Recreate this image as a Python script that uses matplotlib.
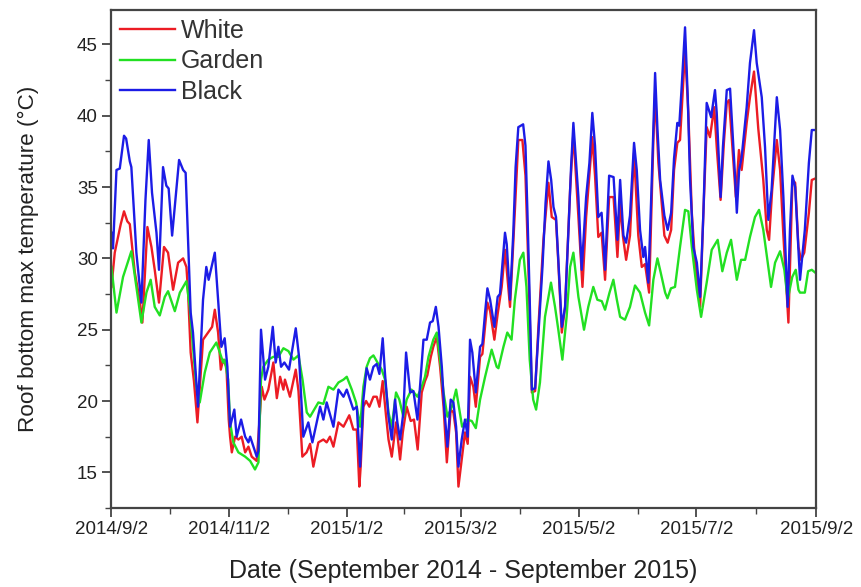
import matplotlib
matplotlib.use("Agg")
import matplotlib.pyplot as plt
from matplotlib.ticker import MultipleLocator

plt.rcParams["font.family"] = ["Liberation Sans", "DejaVu Sans"]

# day offset from 2014/9/2, daily max roof-bottom temperature (deg C)
white_days = [0.2, 1.9, 3.6, 5.0, 6.7, 8.4, 9.7, 12.3, 14.8, 16.2, 18.8, 20.9, 22.6, 24.8, 27.4, 29.5,
              32.1, 34.7, 37.3, 39.0, 39.8, 41.2, 42.9, 44.7, 47.6, 50.2, 52.3, 53.7, 55.4, 56.8, 58.0,
              59.7, 60.9, 61.6, 62.5, 64.2, 65.9, 67.6, 69.4, 71.1, 72.8, 75.4, 78.0, 79.4, 81.4, 84.0,
              85.8, 87.5, 89.2, 90.0, 92.6, 95.6, 97.0, 99.0, 101.2, 103.0, 104.7, 107.3, 109.9, 111.6,
              113.3, 115.1, 117.7, 120.3, 123.3, 125.4, 127.2, 128.5, 129.2, 130.6, 132.0, 133.7, 135.8,
              137.5, 138.9, 140.6, 142.3, 143.6, 145.3, 147.5, 149.6, 151.0, 153.0, 155.1, 156.8, 158.7,
              160.8, 162.5, 163.7, 165.5, 166.8, 168.6, 170.3, 172.1, 173.8, 175.8, 177.2, 178.6, 179.8,
              181.5, 183.2, 184.6, 185.8, 187.5, 188.8, 191.0, 192.2, 194.8, 196.2, 198.4, 200.1, 202.2,
              203.9, 205.6, 206.5, 208.2, 210.8, 212.9, 214.5, 216.0, 217.8, 219.5, 221.2, 223.8, 226.4,
              228.1, 230.3, 231.5, 233.3, 235.0, 237.6, 239.3, 241.9, 244.0, 245.9, 249.1, 250.5, 252.2,
              253.9, 255.7, 257.8, 260.1, 262.1, 263.5, 265.0, 266.6, 268.6, 270.7, 272.9, 274.7, 276.4,
              278.5, 280.7, 281.6, 283.3, 286.4, 288.1, 289.9, 291.4, 293.1, 294.5, 297.1, 298.8, 300.6,
              302.3, 304.9, 306.6, 308.3, 310.0, 312.2, 313.5, 315.5, 317.2, 318.7, 319.9, 321.6, 323.4,
              325.0, 326.4, 329.0, 330.7, 332.8, 335.0, 337.6, 339.4, 340.6, 342.2, 344.6, 346.3, 348.0,
              350.6, 352.0, 352.7, 354.1, 355.8, 357.1, 358.8, 361.2, 362.7, 364.5]
white_vals = [28.0, 30.4, 31.5, 32.4, 33.3, 32.6, 32.4, 29.0, 27.1, 25.5, 32.2, 30.8, 29.2, 26.9, 30.8, 30.4,
              27.8, 29.7, 30.0, 29.4, 27.8, 23.4, 21.4, 18.5, 24.3, 24.8, 25.2, 26.4, 24.8, 22.2, 22.9,
              22.4, 18.7, 17.5, 16.4, 17.5, 17.3, 17.5, 16.4, 16.8, 16.1, 15.8, 21.0, 20.1, 20.8, 22.7,
              20.2, 21.7, 20.8, 21.5, 20.3, 22.2, 20.7, 16.1, 16.4, 17.0, 15.4, 17.1, 17.3, 17.1,
              17.5, 16.8, 18.5, 18.2, 19.0, 18.0, 18.0, 14.0, 15.4, 19.6, 20.0, 19.6, 20.3,
              20.3, 19.6, 21.4, 19.0, 17.3, 16.1, 18.5, 15.9, 17.8, 19.6, 18.6, 18.7, 16.6,
              20.6, 21.4, 21.8, 23.1, 23.8, 24.5, 22.4, 19.6, 15.7, 19.4, 19.2, 17.8, 14.0,
              15.9, 17.8, 17.0, 21.7, 21.0, 19.6, 23.1, 23.3, 26.9, 26.3, 24.3, 26.1, 28.0,
              30.6, 28.0, 26.6, 31.1, 38.3, 38.3, 35.8, 29.4, 20.6, 20.7, 25.2, 31.3, 35.3,
              32.9, 32.7, 29.7, 24.8, 26.6, 34.8, 38.8, 32.9, 28.0, 32.9, 38.5, 35.8, 31.5,
              31.8, 28.5, 34.3, 34.3, 30.1, 33.8, 31.5, 29.9, 31.6, 37.4, 31.6, 29.4, 29.6,
              27.6, 38.3, 41.6, 36.7, 31.6, 31.1, 32.0, 36.2, 38.1, 38.3, 44.6, 40.2, 33.2,
              29.7, 26.6, 33.2, 39.2, 38.5, 40.6, 37.8, 34.1, 38.1, 40.9, 41.1, 37.8, 34.3,
              37.6, 36.2, 39.5, 41.3, 43.1, 39.1, 35.5, 32.0, 31.3, 34.8, 38.3, 36.2, 31.6,
              25.5, 32.0, 35.5, 35.3, 30.8, 29.9, 30.4, 33.2, 35.5, 35.6]

garden_days = [0.2, 2.8, 6.2, 10.5, 13.1, 15.7, 18.3, 20.5, 22.6, 25.2, 27.8, 29.5, 33.0, 35.6, 39.0, 40.7,
               42.4, 44.1, 45.9, 48.5, 51.1, 54.5, 56.3, 58.0, 58.8, 60.6, 61.6, 63.3, 65.9, 69.4, 72.0,
               74.5, 76.3, 77.6, 78.8, 81.4, 84.0, 86.6, 89.2, 91.8, 94.4, 97.0, 99.1, 101.3, 103.0, 104.7,
               107.3, 109.9, 112.5, 115.1, 117.7, 120.3, 122.0, 124.6, 126.8, 128.9, 130.6, 132.3, 134.0,
               135.8, 137.9, 140.1, 141.8, 143.6, 145.3, 147.5, 149.2, 151.3, 153.0, 155.5, 158.6, 160.8,
               162.5, 164.3, 166.8, 168.6, 170.3, 172.1, 174.1, 176.4, 178.6, 180.3, 181.7, 184.1, 186.7,
               188.8, 191.0, 193.6, 197.0, 199.6, 200.5, 203.1, 205.1, 207.3, 209.0, 211.6, 213.4, 215.0,
               216.7, 218.5, 220.0, 222.0, 224.6, 227.7, 229.8, 231.5, 233.6, 235.8, 237.6, 239.3, 241.9,
               244.8, 247.0, 249.6, 251.7, 254.0, 255.7, 258.0, 260.0, 261.8, 263.5, 266.0, 268.6, 271.2,
               273.8, 276.4, 278.5, 280.7, 282.8, 284.5, 286.8, 288.0, 289.8, 291.9, 294.5, 297.1, 298.8,
               300.6, 303.2, 305.4, 308.3, 310.9, 314.0, 316.4, 318.7, 320.9, 323.9, 326.1, 328.2, 330.7,
               333.3, 335.4, 337.6, 339.9, 341.6, 343.7, 346.3, 348.5, 350.2, 352.6, 354.4, 355.8, 356.6,
               359.1, 360.8, 362.7, 364.5]
garden_vals = [29.4, 26.2, 28.7, 30.5, 28.0, 25.5, 27.6, 28.5, 26.6, 26.0, 27.3, 27.7, 26.3, 27.6, 28.4, 26.6,
               23.8, 21.0, 19.9, 22.0, 23.4, 24.1, 23.4, 22.7, 22.9, 21.5, 18.5, 17.1, 16.4, 16.1, 15.8,
               15.2, 15.7, 21.5, 22.4, 22.9, 23.1, 23.1, 23.7, 23.5, 22.9, 23.2, 21.5, 19.2, 18.9, 19.3,
               19.9, 19.8, 21.0, 20.8, 21.3, 21.5, 21.7, 20.8, 19.9, 18.2, 21.0, 22.4, 23.0,
               23.2, 22.7, 22.2, 21.5, 19.2, 18.2, 20.6, 20.1, 18.9, 20.1, 20.8, 20.3, 21.0,
               21.7, 23.1, 24.3, 24.8, 22.9, 20.6, 18.9, 19.6, 20.8, 19.4, 18.2, 18.7, 18.6,
               18.1, 20.1, 21.7, 23.6, 22.4, 22.3, 23.8, 24.8, 24.3, 27.1, 29.9, 30.4, 28.0,
               22.9, 20.1, 19.4, 21.3, 25.9, 28.3, 26.6, 25.0, 22.9, 25.9, 29.4, 30.4, 27.3,
               25.0, 26.6, 28.0, 27.1, 27.0, 26.4, 27.6, 28.5, 27.1, 25.9, 25.7, 26.6, 28.1,
               27.6, 26.2, 25.3, 28.5, 30.0, 29.0, 27.6, 27.2, 27.9, 28.0, 30.8, 33.4, 33.3,
               30.8, 27.8, 25.9, 28.3, 30.6, 31.3, 29.1, 30.4, 31.3, 28.5, 29.9, 29.9, 31.5,
               32.9, 33.4, 32.0, 29.7, 28.0, 29.7, 30.5, 29.2, 27.1, 28.7, 29.2, 27.8, 27.6,
               27.6, 29.1, 29.2, 29.0]

black_days = [0.2, 1.0, 2.8, 4.5, 6.7, 7.8, 9.7, 10.5, 13.1, 15.7, 17.8, 19.5, 21.2, 23.5, 24.8, 26.9,
              28.6, 29.8, 31.6, 35.2, 37.3, 38.6, 41.2, 42.4, 45.0, 47.6, 49.3, 50.5, 53.7, 55.4, 57.1,
              58.8, 60.2, 61.6, 63.8, 65.0, 67.3, 69.4, 71.1, 72.0, 75.4, 76.3, 77.6, 79.7, 81.4, 83.7,
              85.2, 86.6, 88.0, 89.7, 92.1, 95.6, 97.3, 99.5, 102.1, 104.2, 108.2, 109.9, 111.6, 115.1,
              117.7, 120.3, 122.0, 125.4, 127.2, 128.9, 130.6, 132.3, 134.0, 135.8, 137.5, 138.9, 140.6,
              141.8, 143.6, 145.3, 147.0, 148.2, 149.6, 151.3, 152.7, 154.8, 156.5, 158.6, 160.3, 161.7,
              163.4, 165.1, 166.5, 168.1, 169.5, 171.2, 172.4, 174.1, 175.8, 177.2, 178.6, 179.8, 181.5,
              183.2, 184.6, 185.8, 187.0, 188.8, 191.0, 192.2, 193.6, 194.8, 196.2, 198.4, 200.1, 201.3,
              203.9, 204.8, 206.5, 208.2, 209.4, 210.8, 213.3, 214.5, 215.5, 216.7, 217.8, 219.5, 221.2,
              223.3, 224.9, 226.4, 227.8, 229.0, 230.3, 231.5, 233.3, 235.0, 236.7, 238.1, 239.3, 241.9,
              243.6, 245.9, 247.6, 249.1, 250.5, 252.2, 253.9, 254.8, 255.7, 257.8, 260.1, 262.1, 263.5,
              265.2, 266.6, 268.6, 270.7, 272.1, 273.8, 275.5, 276.4, 278.1, 279.5, 280.7, 281.6, 282.8,
              284.2, 286.4, 288.1, 289.9, 291.4, 293.1, 294.1, 295.3, 297.1, 298.5, 299.7, 301.4, 303.2,
              304.9, 306.6, 308.3, 310.6, 312.6, 313.5, 315.5, 316.7, 318.7, 320.4, 321.6, 323.0, 323.9,
              325.1, 326.4, 329.0, 330.7, 332.8, 334.2, 336.8, 338.5, 340.2, 341.9, 344.6, 346.3, 348.0,
              350.2, 351.4, 352.7, 354.1, 356.6, 359.1, 361.2, 362.7, 364.5]
black_vals = [31.8, 30.7, 36.2, 36.3, 38.6, 38.4, 36.8, 36.4, 30.4, 26.9, 34.1, 38.3, 34.6, 31.8, 29.2, 36.4,
              35.1, 34.9, 31.6, 36.9, 36.2, 36.0, 26.2, 24.8, 19.6, 27.1, 29.4, 28.5, 30.4, 27.1, 23.8,
              24.4, 22.4, 18.2, 19.4, 17.5, 18.7, 17.5, 17.1, 17.5, 16.1, 16.5, 25.0, 21.5, 22.4, 25.2,
              22.7, 23.8, 22.4, 22.7, 22.2, 25.1, 23.1, 17.5, 18.5, 17.1, 19.6, 18.7, 19.9, 18.2,
              20.8, 20.3, 20.8, 19.4, 19.6, 15.4, 20.1, 22.3, 21.5, 22.4, 22.6, 21.9, 24.4,
              21.9, 18.9, 17.3, 20.1, 18.5, 17.3, 19.2, 23.4, 20.6, 20.7, 18.7, 21.7, 24.3,
              24.3, 25.5, 25.6, 26.6, 25.2, 22.4, 19.6, 16.8, 20.1, 19.9, 18.2, 15.4, 17.3,
              18.7, 17.5, 24.3, 23.4, 20.6, 23.8, 24.0, 26.2, 27.9, 27.1, 25.2, 27.3, 27.5,
              31.8, 31.0, 27.1, 31.8, 36.4, 39.2, 39.4, 37.9, 33.3, 27.1, 20.8, 20.9, 24.7,
              29.4, 33.9, 36.8, 35.5, 33.6, 32.9, 29.9, 25.2, 26.6, 31.8, 36.4, 39.5, 34.3,
              29.2, 34.3, 36.7, 40.2, 37.9, 32.9, 33.2, 31.3, 29.2, 35.8, 35.7, 31.3, 35.5,
              31.6, 31.1, 33.0, 38.1, 36.2, 32.0, 30.1, 30.8, 28.3, 33.9, 39.1, 43.0, 39.1,
              35.5, 33.0, 32.0, 33.2, 37.0, 39.5, 39.3, 41.9, 46.2, 41.3, 35.5, 30.8, 29.7,
              27.3, 33.2, 40.9, 39.9, 41.8, 40.2, 34.3, 37.8, 41.8, 41.9, 39.0, 35.7, 33.2,
              36.2, 37.1, 40.6, 43.7, 46.0, 43.7, 41.3, 37.8, 32.7, 34.8, 41.3, 39.0, 34.3,
              26.6, 32.0, 35.8, 35.0, 28.5, 32.0, 36.7, 39.0, 39.0]

tick_days = [0, 61, 122, 181, 242, 303, 365]
tick_labels = ["2014/9/2", "2014/11/2", "2015/1/2", "2015/3/2", "2015/5/2", "2015/7/2", "2015/9/2"]

fig = plt.figure(figsize=(8.61, 5.87), dpi=100)
ax = fig.add_axes([0.129, 0.1346, 0.819, 0.848])

ax.plot(white_days, white_vals, color="#ec1c24", lw=1.7, label="White")
ax.plot(garden_days, garden_vals, color="#22e022", lw=1.7, label="Garden")
ax.plot(black_days, black_vals, color="#1c1ce6", lw=1.7, label="Black")

ax.set_xlim(0, 365)
ax.set_ylim(12.5, 47.4)
ax.set_xticks(tick_days)
ax.set_xticklabels(tick_labels)
ax.set_xticks([(a + b) / 2 for a, b in zip(tick_days[:-1], tick_days[1:])], minor=True)
ax.yaxis.set_major_locator(MultipleLocator(5))
ax.yaxis.set_minor_locator(MultipleLocator(2.5))
ax.set_yticks(range(15, 50, 5))

for s in ax.spines.values():
    s.set_color("#444444")
    s.set_linewidth(1.6)
ax.tick_params(which="both", direction="out", colors="#444444", labelcolor="#222222",
               top=False, right=False)
ax.tick_params(which="major", length=6.5, width=1.3, labelsize=13.5, pad=3)
ax.tick_params(which="minor", length=4, width=1.0)

ax.set_xlabel("Date (September 2014 - September 2015)", fontsize=18, color="#222222", labelpad=15)
ax.set_ylabel("Roof bottom max temperature (°C)", fontsize=16.2, color="#222222", labelpad=27)

ax.legend(loc="upper left", frameon=False, fontsize=18, handlelength=2.2,
          labelspacing=0.26, handletextpad=0.25, borderaxespad=0.1, borderpad=0.25,
          bbox_to_anchor=(0.0, 1.0), labelcolor="#333333")

fig.savefig("out.png", dpi=100)
